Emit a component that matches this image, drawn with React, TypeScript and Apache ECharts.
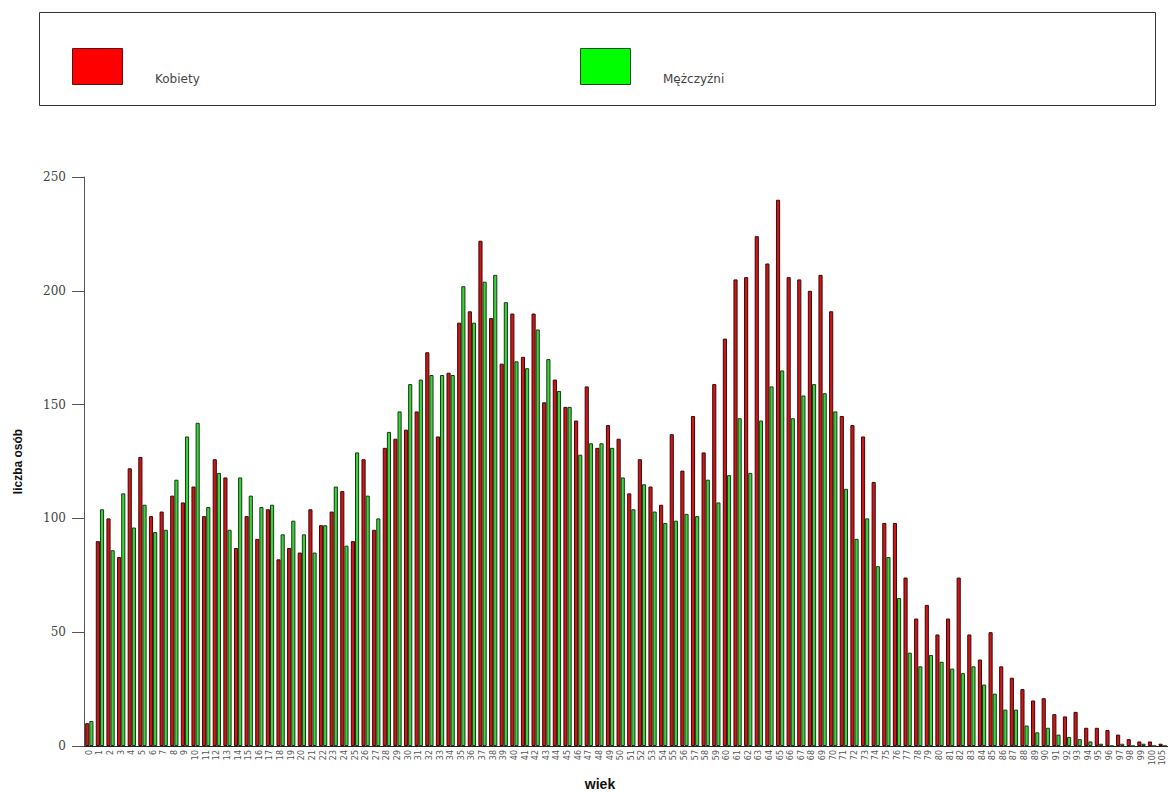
import React, { useEffect, useRef } from "react";
import * as echarts from "echarts";

const ages: string[] = [
  ...Array.from({ length: 101 }, (_, i) => String(i)),
  "105",
];

const kobiety: number[] = [
  10, 90, 100, 83, 122, 127, 101, 103, 110, 107,
  114, 101, 126, 118, 87, 101, 91, 104, 82, 87,
  85, 104, 97, 103, 112, 90, 126, 95, 131, 135,
  139, 147, 173, 136, 164, 186, 191, 222, 188, 168,
  190, 171, 190, 151, 161, 149, 143, 158, 131, 141,
  135, 111, 126, 114, 106, 137, 121, 145, 129, 159,
  179, 205, 206, 224, 212, 240, 206, 205, 200, 207,
  191, 145, 141, 136, 116, 98, 98, 74, 56, 62,
  49, 56, 74, 49, 38, 50, 35, 30, 25, 20,
  21, 14, 13, 15, 8, 8, 7, 5, 3, 2,
  2, 1,
];

const mezczyzni: number[] = [
  11, 104, 86, 111, 96, 106, 94, 95, 117, 136,
  142, 105, 120, 95, 118, 110, 105, 106, 93, 99,
  93, 85, 97, 114, 88, 129, 110, 100, 138, 147,
  159, 161, 163, 163, 163, 202, 186, 204, 207, 195,
  169, 166, 183, 170, 156, 149, 128, 133, 133, 131,
  118, 104, 115, 103, 98, 99, 102, 101, 117, 107,
  119, 144, 120, 143, 158, 165, 144, 154, 159, 155,
  147, 113, 91, 100, 79, 83, 65, 41, 35, 40,
  37, 34, 32, 35, 27, 23, 16, 16, 9, 6,
  8, 5, 4, 3, 2, 1, 0, 1, 0, 1,
  0, 0,
];

const seriesNames = ["Kobiety", "Mężczyźni"];
const legendColors = ["#ff0000", "#00ff00"];
const yTicks = { min: 0, max: 250, interval: 50 };

export default function App() {
  const ref = useRef<HTMLDivElement>(null);

  useEffect(() => {
    if (!ref.current) return;
    const chart = echarts.init(ref.current, undefined, {
      renderer: "svg",
      width: 1168,
      height: 792,
    });

    const legendItems: any[] = [];
    const legendX = [72, 580];
    seriesNames.forEach((name, i) => {
      legendItems.push({
        type: "rect",
        shape: { x: legendX[i] + 0.5, y: 48.5, width: 50, height: 36 },
        style: { fill: legendColors[i], stroke: i === 0 ? "#5a1010" : "#1a4a1a", lineWidth: 1 },
        silent: true,
      });
      legendItems.push({
        type: "text",
        x: legendX[i] + 83,
        y: 79,
        style: {
          text: name,
          fontFamily: "DejaVu Sans",
          fontSize: 12,
          fill: "#444444",
          align: "left",
          verticalAlign: "middle",
        },
        silent: true,
      });
    });

    chart.setOption({
      animation: false,
      backgroundColor: "#ffffff",
      graphic: [
        {
          type: "rect",
          shape: { x: 39.5, y: 12.5, width: 1116, height: 93 },
          style: { fill: "none", stroke: "#333333", lineWidth: 1 },
          silent: true,
        },
        ...legendItems,
      ],
      grid: {
        left: 84,
        right: 0,
        top: 177,
        bottom: 46,
        containLabel: false,
        outerBoundsMode: "none",
      },
      xAxis: {
        type: "category",
        data: ages,
        name: "wiek",
        nameLocation: "middle",
        nameGap: 31,
        nameTextStyle: {
          fontFamily: "Liberation Sans",
          fontWeight: "bold",
          fontSize: 14,
          color: "#111111",
          padding: [0, 52, 0, 0],
        },
        axisLine: { lineStyle: { color: "#222222", width: 1 } },
        axisTick: { alignWithLabel: true, length: 6, lineStyle: { color: "#333333" } },
        axisLabel: {
          interval: 0,
          rotate: 90,
          fontSize: 8,
          fontFamily: "DejaVu Sans",
          color: "#555555",
          margin: 4,
        },
        splitLine: { show: false },
      },
      yAxis: {
        type: "value",
        min: yTicks.min,
        max: yTicks.max,
        interval: yTicks.interval,
        name: "liczba osób",
        nameLocation: "middle",
        nameGap: 60,
        nameTextStyle: {
          fontFamily: "Liberation Sans",
          fontWeight: "bold",
          fontSize: 12,
          color: "#111111",
        },
        axisLine: { show: true, lineStyle: { color: "#555555", width: 1 } },
        axisTick: { show: true, length: 12, lineStyle: { color: "#555555" } },
        axisLabel: {
          fontFamily: "DejaVu Serif",
          fontSize: 12,
          color: "#444444",
          margin: 18,
        },
        splitLine: { show: false },
      },
      series: [
        {
          name: seriesNames[0],
          type: "bar",
          data: kobiety,
          barGap: "0%",
          barCategoryGap: "22%",
          itemStyle: { color: "#cf1616", borderColor: "#3a0808", borderWidth: 1 },
        },
        {
          name: seriesNames[1],
          type: "bar",
          data: mezczyzni,
          barGap: "0%",
          barCategoryGap: "22%",
          itemStyle: { color: "#3ad43a", borderColor: "#173a17", borderWidth: 1 },
        },
      ],
    });
    return () => chart.dispose();
  }, []);

  return (
    <div
      ref={ref}
      style={{ position: "fixed", left: 0, top: 0, width: 1168, height: 792, background: "#fff" }}
    />
  );
}
